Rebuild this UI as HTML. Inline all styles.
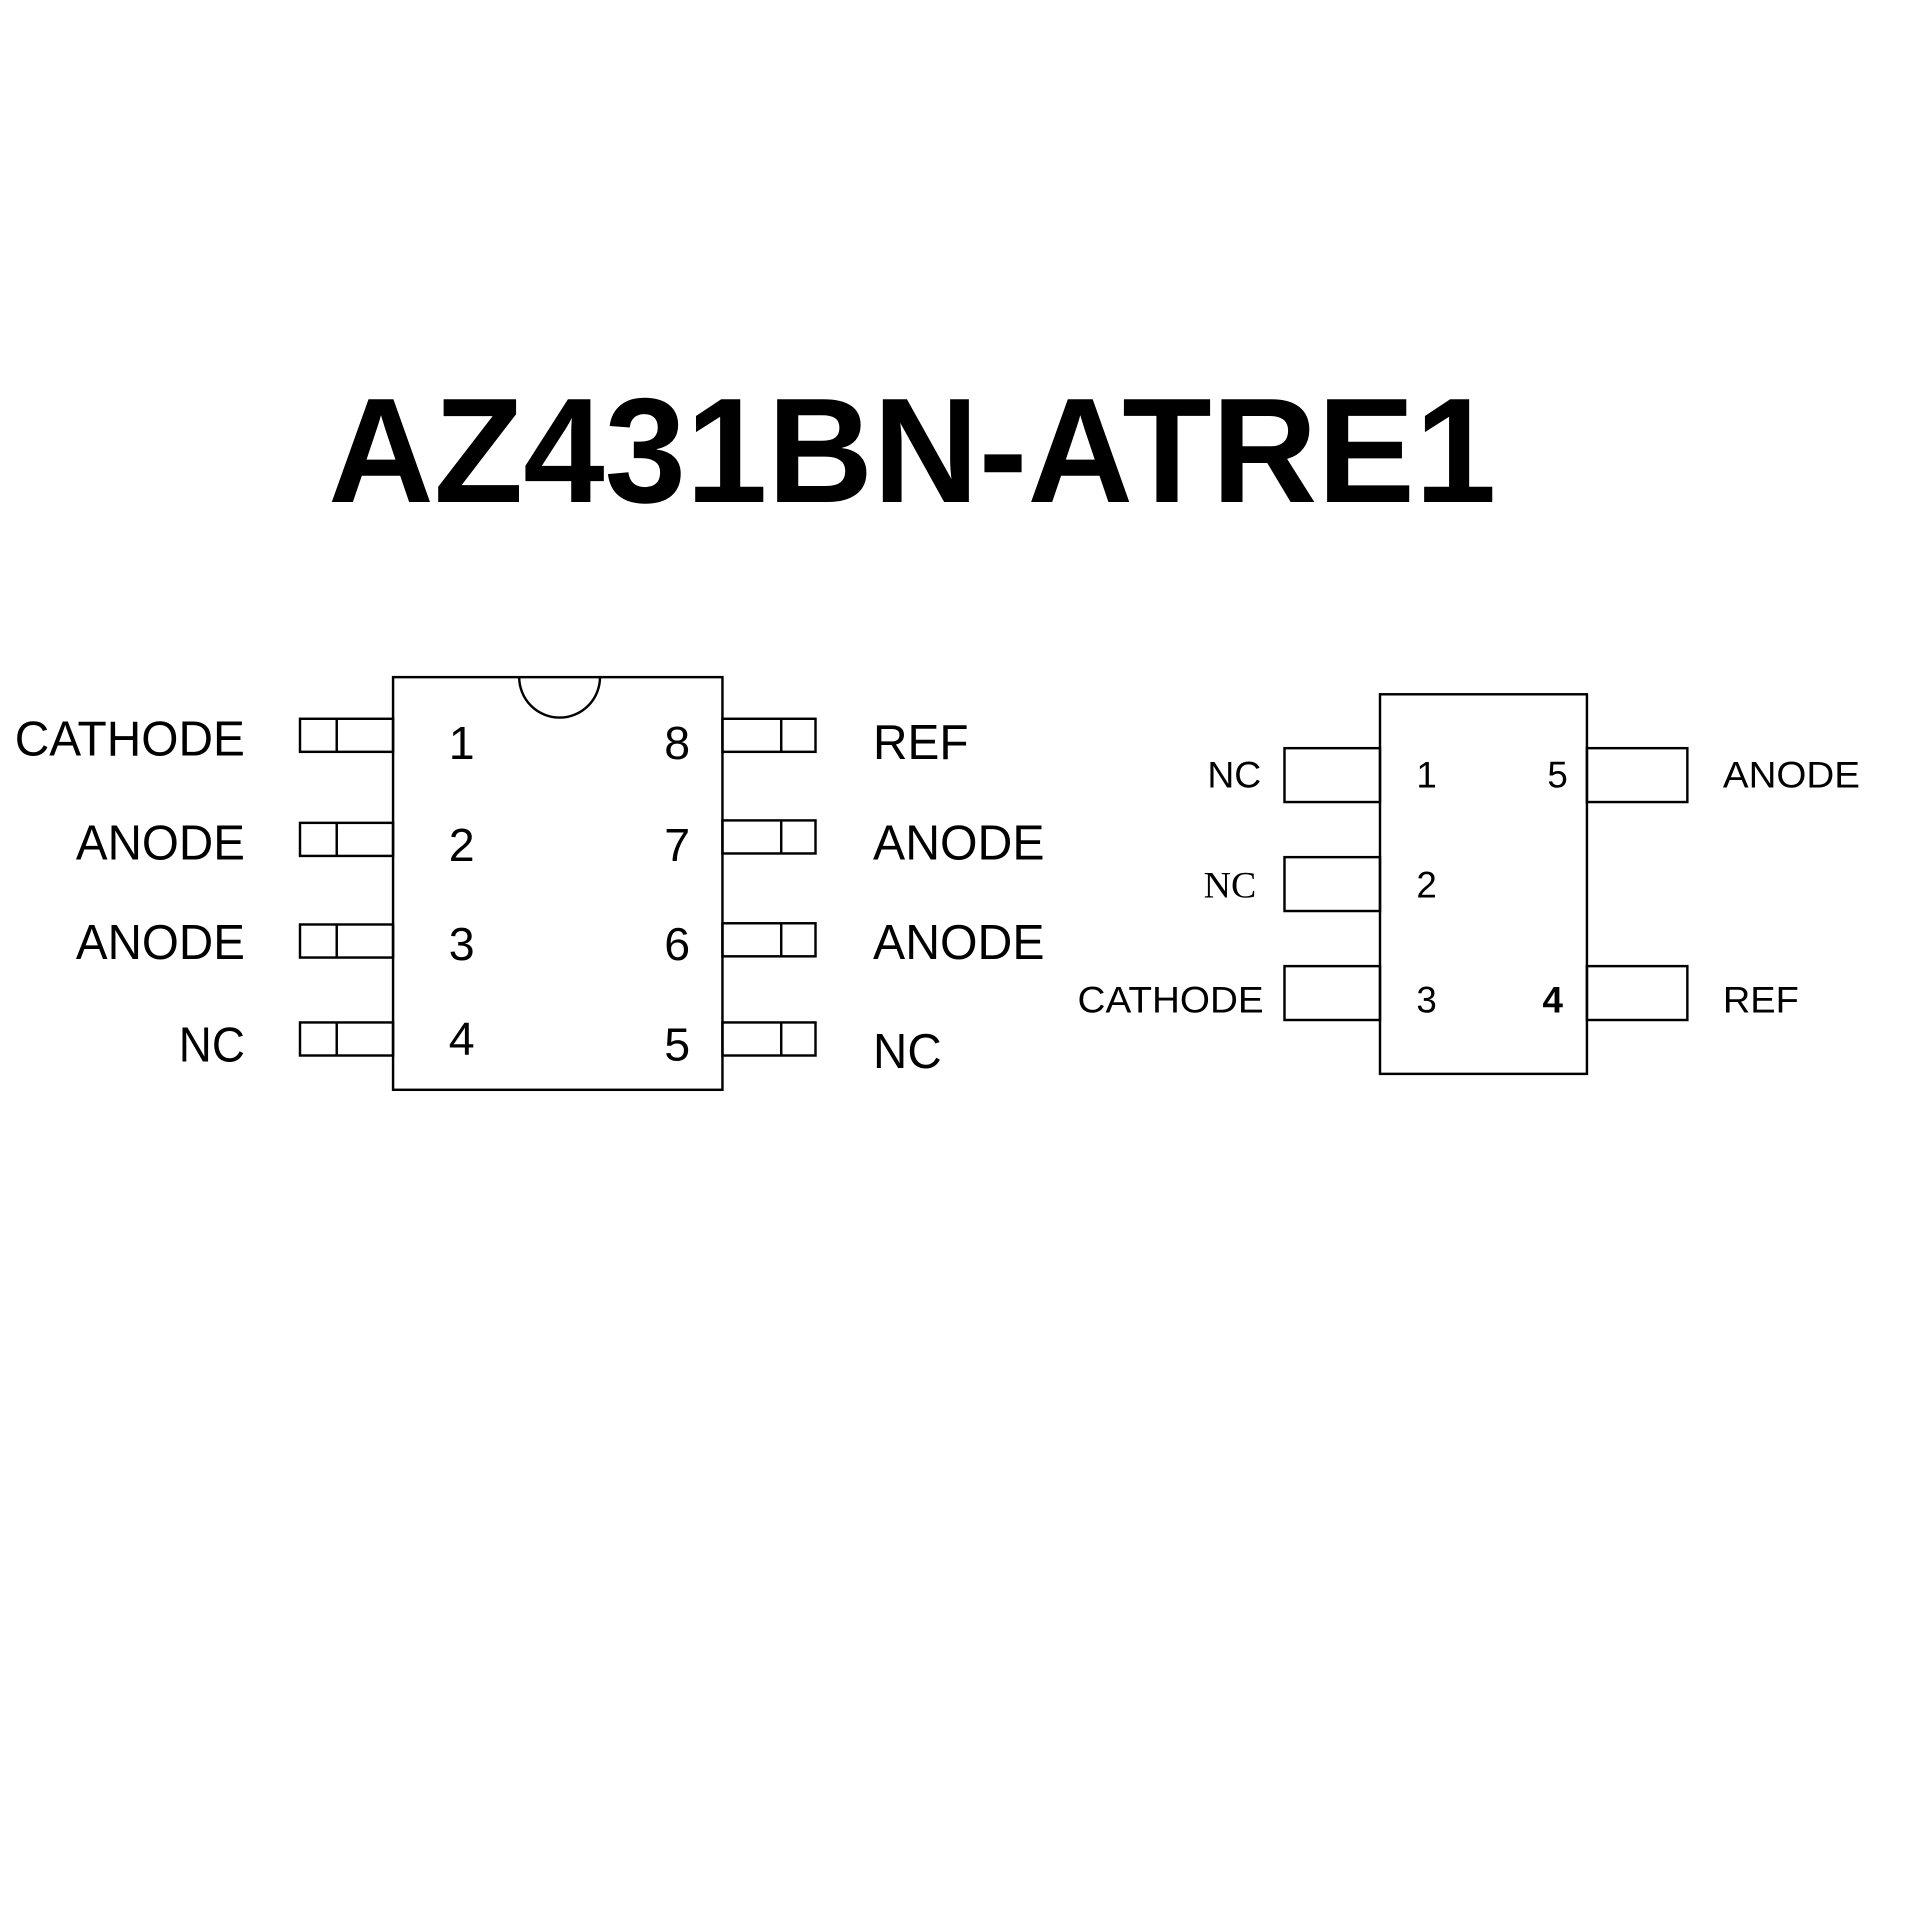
<!DOCTYPE html>
<html><head><meta charset="utf-8"><style>html,body{margin:0;padding:0;background:#fff;}svg{display:block}</style></head>
<body>
<svg width="1920" height="1920" viewBox="0 0 1568 1568" xmlns="http://www.w3.org/2000/svg">
<rect width="1568" height="1568" fill="#fff"/>
<text x="268" y="410" font-family="Liberation Sans, sans-serif" font-weight="bold" font-size="122" textLength="954" lengthAdjust="spacingAndGlyphs">AZ431BN-ATRE1</text>
<g fill="none" stroke="#000" stroke-width="2">
<rect x="321" y="553" width="269" height="337"/>
<path d="M424 553 A33 33 0 0 0 490 553"/>
<rect x="245" y="587" width="76" height="27"/><line x1="275" y1="587" x2="275" y2="614"/>
<rect x="245" y="672" width="76" height="27"/><line x1="275" y1="672" x2="275" y2="699"/>
<rect x="245" y="755" width="76" height="27"/><line x1="275" y1="755" x2="275" y2="782"/>
<rect x="245" y="835" width="76" height="27"/><line x1="275" y1="835" x2="275" y2="862"/>
<rect x="590" y="587" width="76" height="27"/><line x1="638" y1="587" x2="638" y2="614"/>
<rect x="590" y="670" width="76" height="27"/><line x1="638" y1="670" x2="638" y2="697"/>
<rect x="590" y="754" width="76" height="27"/><line x1="638" y1="754" x2="638" y2="781"/>
<rect x="590" y="835" width="76" height="27"/><line x1="638" y1="835" x2="638" y2="862"/>
<rect x="1127" y="567" width="169" height="310"/>
<rect x="1049" y="611" width="78" height="44"/>
<rect x="1049" y="700" width="78" height="44"/>
<rect x="1049" y="789" width="78" height="44"/>
<rect x="1296" y="611" width="82" height="44"/>
<rect x="1296" y="789" width="82" height="44"/>
</g>
<g font-family="Liberation Sans, sans-serif" font-size="38" fill="#000">
<text x="377" y="620" text-anchor="middle">1</text>
<text x="377" y="703" text-anchor="middle">2</text>
<text x="377" y="784" text-anchor="middle">3</text>
<text x="377" y="861" text-anchor="middle">4</text>
<text x="553" y="620" text-anchor="middle">8</text>
<text x="553" y="703" text-anchor="middle">7</text>
<text x="553" y="784" text-anchor="middle">6</text>
<text x="553" y="866" text-anchor="middle">5</text>
</g>
<g font-family="Liberation Sans, sans-serif" font-size="40" fill="#000" lengthAdjust="spacingAndGlyphs">
<text x="12" y="617" textLength="188" lengthAdjust="spacingAndGlyphs">CATHODE</text>
<text x="62" y="702" textLength="138" lengthAdjust="spacingAndGlyphs">ANODE</text>
<text x="62" y="783" textLength="138" lengthAdjust="spacingAndGlyphs">ANODE</text>
<text x="146" y="867" textLength="54" lengthAdjust="spacingAndGlyphs">NC</text>
<text x="713" y="620" textLength="78" lengthAdjust="spacingAndGlyphs">REF</text>
<text x="713" y="702" textLength="140" lengthAdjust="spacingAndGlyphs">ANODE</text>
<text x="713" y="783" textLength="140" lengthAdjust="spacingAndGlyphs">ANODE</text>
<text x="713" y="872" textLength="56" lengthAdjust="spacingAndGlyphs">NC</text>
</g>
<g font-family="Liberation Sans, sans-serif" font-size="30" fill="#000">
<text x="1165" y="643" text-anchor="middle">1</text>
<text x="1165" y="733" text-anchor="middle">2</text>
<text x="1165" y="827" text-anchor="middle">3</text>
<text x="1268" y="827" text-anchor="middle" font-weight="bold">4</text>
<text x="1272" y="643" text-anchor="middle">5</text>
<text x="986" y="643" textLength="44" lengthAdjust="spacingAndGlyphs">NC</text>
<text x="983" y="733" textLength="43" lengthAdjust="spacingAndGlyphs" font-family="Liberation Serif, serif">NC</text>
<text x="880" y="827" textLength="152" lengthAdjust="spacingAndGlyphs">CATHODE</text>
<text x="1407" y="643" textLength="112" lengthAdjust="spacingAndGlyphs">ANODE</text>
<text x="1407" y="827" textLength="62" lengthAdjust="spacingAndGlyphs">REF</text>
</g>
</svg>
</body></html>
